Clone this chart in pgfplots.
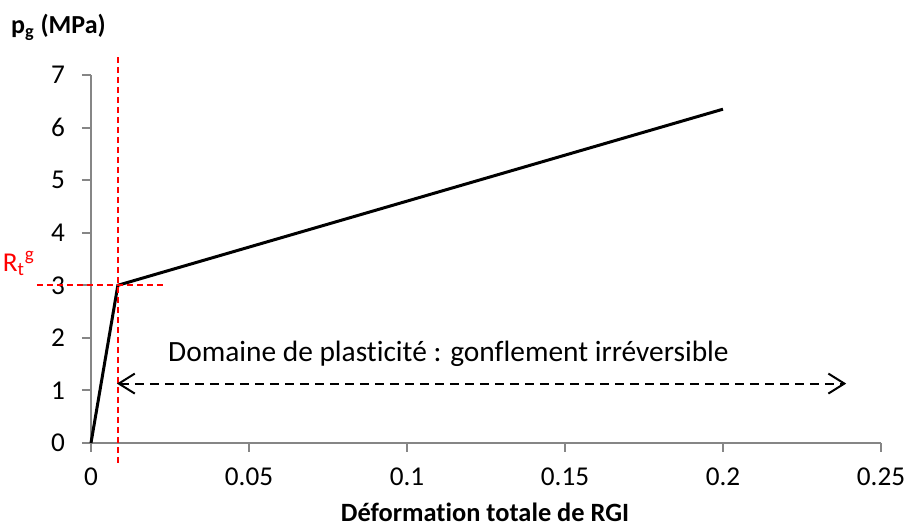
\documentclass[border=0pt]{standalone}
\usepackage{fontspec}
\setmainfont{Carlito}[Ligatures={NoCommon}]
\usepackage{pgfplots}
\pgfplotsset{compat=1.18}
\usetikzlibrary{arrows.meta}
\definecolor{axisgray}{HTML}{868686}

\begin{document}
\begin{tikzpicture}
\begin{axis}[
    at={(0,0)}, anchor=south west,
    scale only axis,
    width=395pt, height=184pt,
    xmin=0, xmax=0.25, ymin=0, ymax=7,
    xtick={0,0.05,0.1,0.15,0.2,0.25},
    xticklabels={0,0.05,0.1,0.15,0.2,0.25},
    ytick={0,1,2,3,4,5,6,7},
    axis x line*=bottom, axis y line*=left,
    axis line style={axisgray, line width=1pt, -},
    tick style={axisgray, line width=1pt},
    tick align=outside,
    major tick length=4.5pt,
    tick label style={font=\fontsize{13.6}{16}\selectfont, black},
    xticklabel style={yshift=-4.5pt},
    yticklabel style={xshift=-5pt},
    /pgf/number format/assume math mode=true,
    clip=false,
]
% courbe p_g en fonction de la deformation
\addplot[black, line width=1.5pt] coordinates {(0,0) (0.0085,3) (0.2,6.35)};
% reperes R_t^g
\addplot[red, line width=1pt, dash pattern=on 3pt off 2pt] coordinates {(0.0086,7.34) (0.0086,-0.4)};
\addplot[red, line width=1pt, dash pattern=on 3pt off 2pt] coordinates {(-0.0171,3) (0.0237,3)};
% domaine de plasticite
\addplot[black, line width=1pt, dash pattern=on 4.5pt off 3pt,
    {Straight Barb[length=8pt,width=10pt]}-{Straight Barb[length=8pt,width=10pt]}]
    coordinates {(0.0082,1.13) (0.239,1.13)};

\node[anchor=base west, font=\fontsize{14.7}{17}\selectfont] at (axis cs:0.0222,1.547)
    {Domaine de plasticité : gonflement irréversible};
\node[anchor=base east, red, font=\fontsize{13.6}{16}\selectfont] at (axis cs:-0.0155,3.27)
    {R\textsubscript{t}\textsuperscript{g}};
\node[anchor=base west, font=\bfseries\fontsize{13}{15}\selectfont] at (axis cs:-0.0275,7.78)
    {p\textsubscript{g} (MPa)};
\node[anchor=base, inner sep=1pt, font=\bfseries\fontsize{13.2}{15}\selectfont] at (axis cs:0.1247,-1.49)
    {Déformation totale de RGI};
\end{axis}
\pgfresetboundingbox
\path (-45.5pt,-42.5pt) rectangle (409pt,221.5pt);
\end{tikzpicture}
\end{document}
